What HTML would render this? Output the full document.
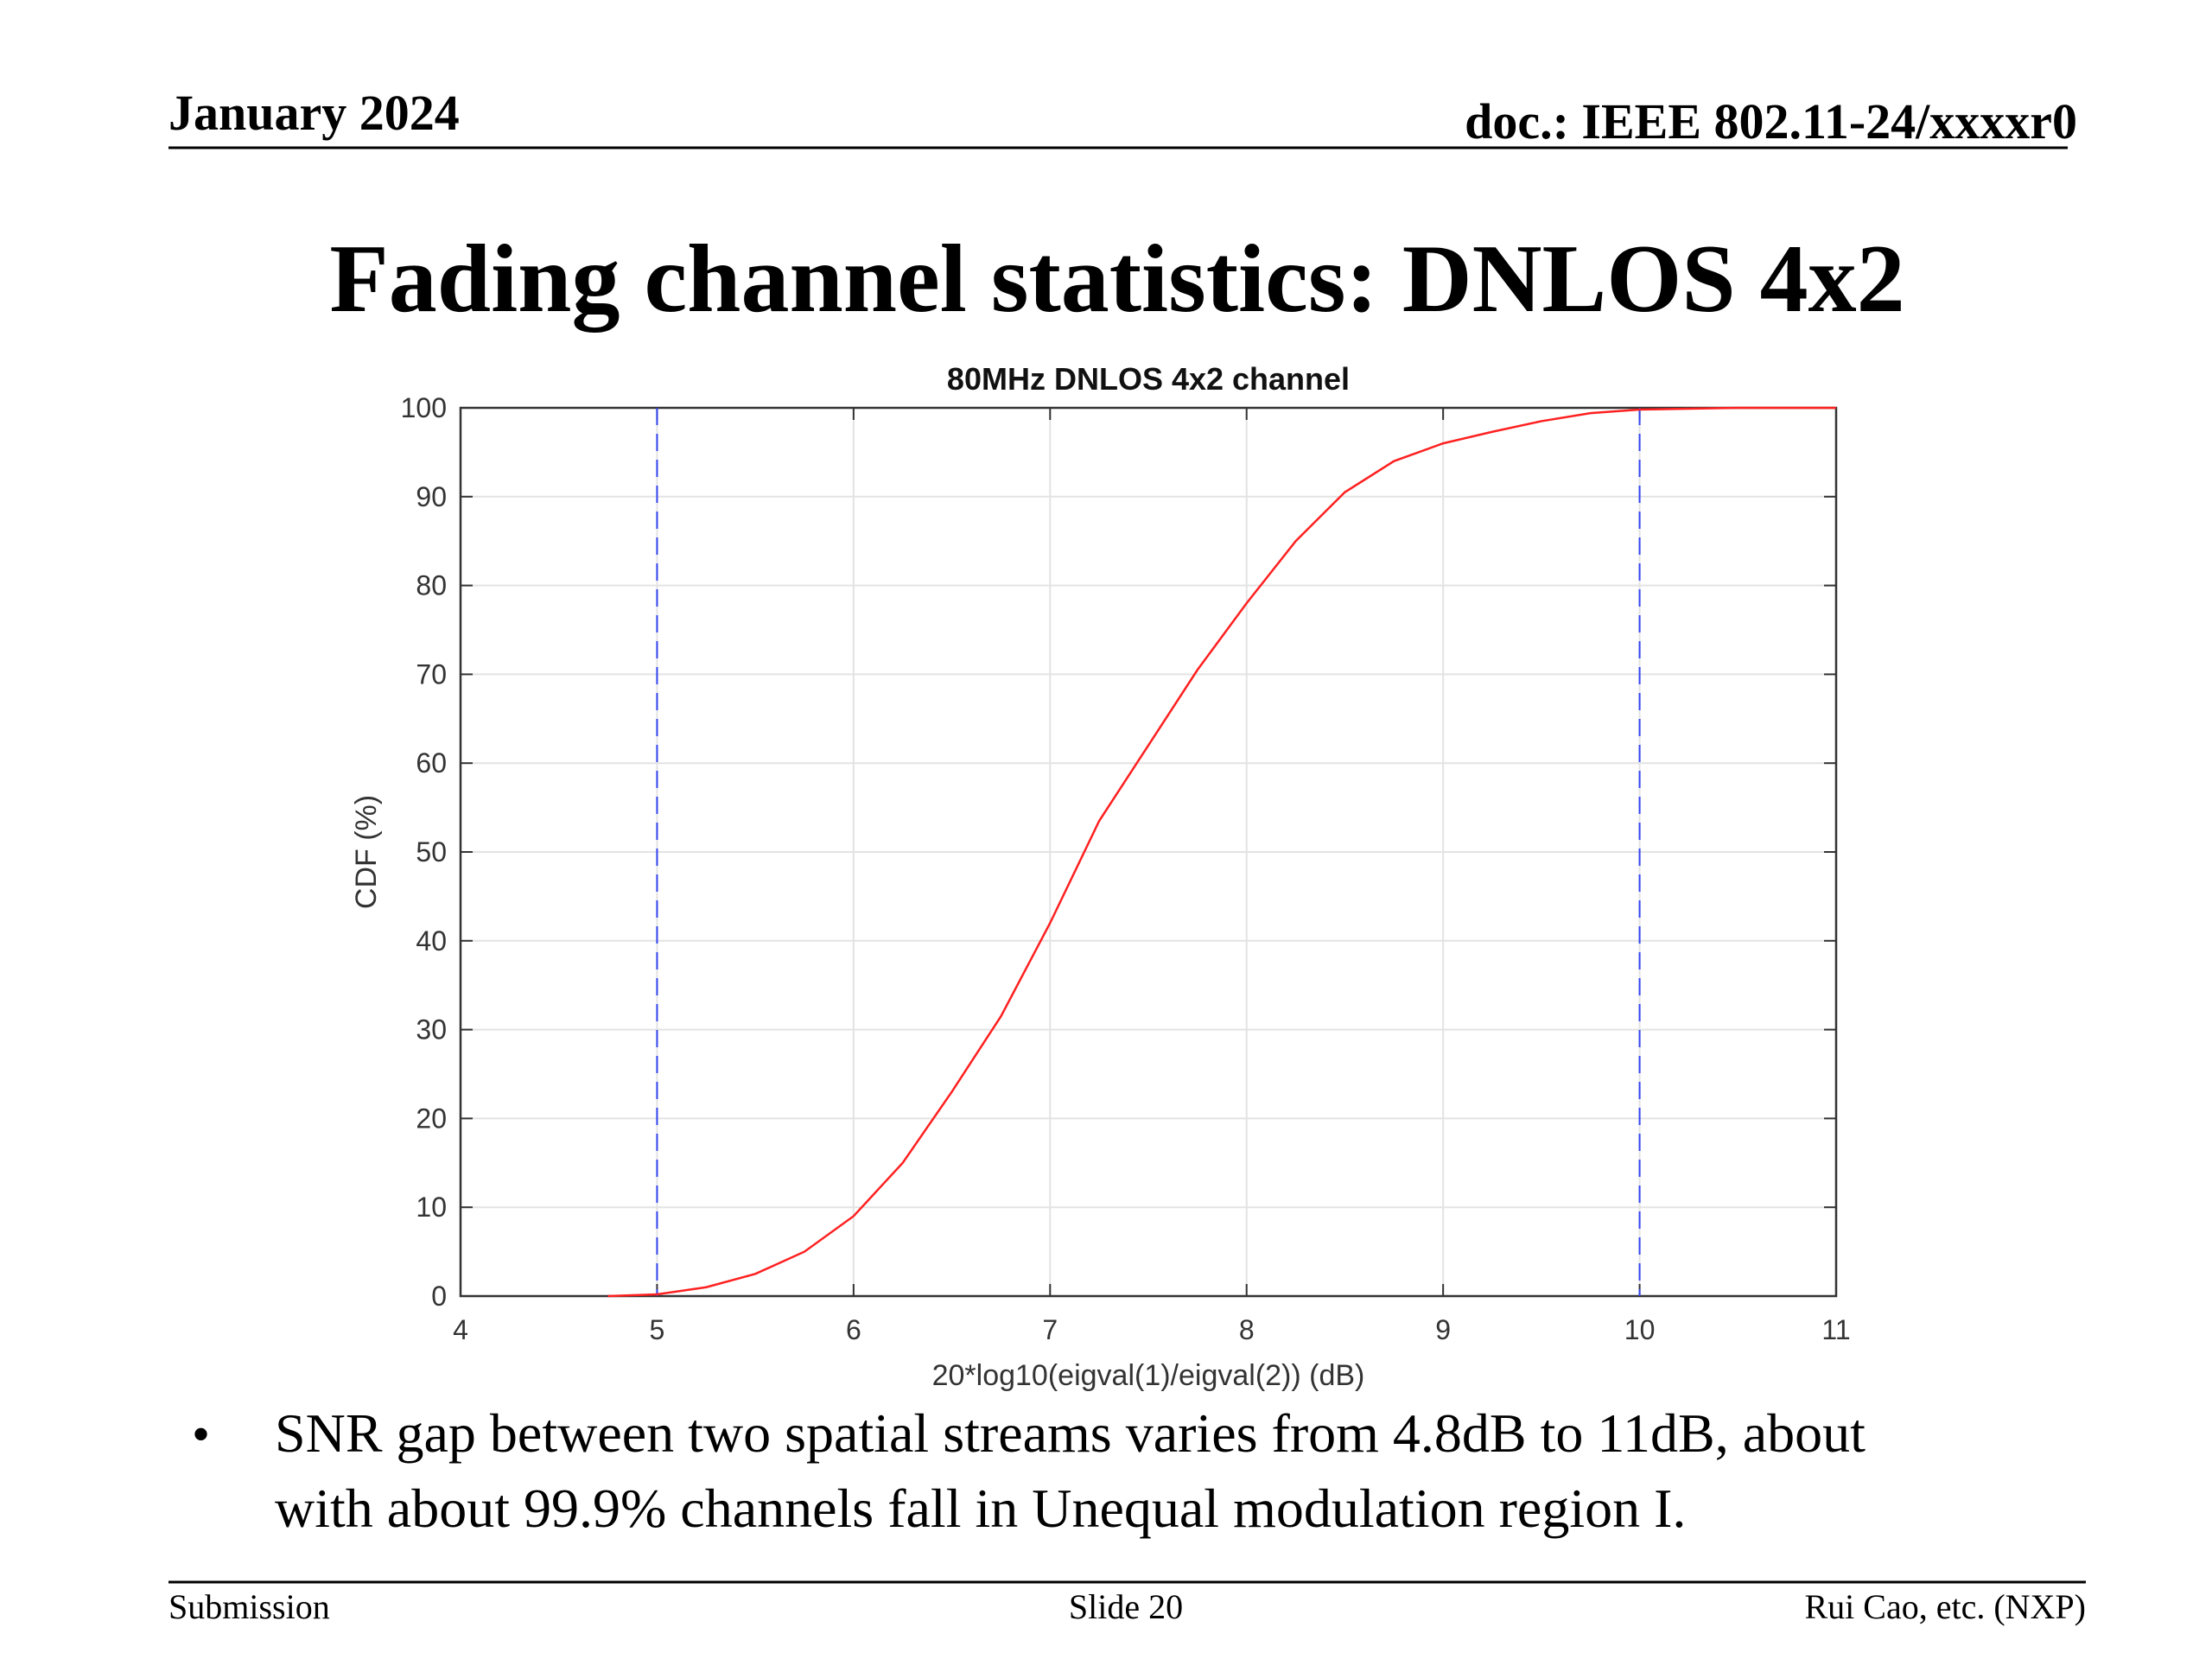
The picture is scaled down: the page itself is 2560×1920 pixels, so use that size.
<!DOCTYPE html>
<html><head><meta charset="utf-8"><style>
html,body{margin:0;padding:0;background:#fff}
svg{display:block}
</style></head><body>
<svg id="page" width="2560" height="1920" viewBox="0 0 2560 1920" xmlns="http://www.w3.org/2000/svg">
<text x="195" y="150" font-family="Liberation Serif, serif" font-weight="bold" font-size="58">January 2024</text>
<text x="2404" y="160" text-anchor="end" font-family="Liberation Serif, serif" font-weight="bold" font-size="58">doc.: IEEE 802.11-24/xxxxr0</text>
<line x1="195" y1="171" x2="2393" y2="171" stroke="#000" stroke-width="3"/>
<text x="1293" y="360" text-anchor="middle" font-family="Liberation Serif, serif" font-weight="bold" font-size="112">Fading channel statistics: DNLOS 4x2</text>
<g id="chart"></g>
<text x="222" y="1680" font-family="Liberation Serif, serif" font-size="60">•</text>
<text font-family="Liberation Serif, serif" font-size="64"><tspan x="318" y="1680">SNR gap between two spatial streams varies from 4.8dB to 11dB, about</tspan><tspan x="318" y="1767">with about 99.9% channels fall in Unequal modulation region I.</tspan></text>
<line x1="195" y1="1831" x2="2414" y2="1831" stroke="#000" stroke-width="3"/>
<text x="195" y="1873" font-family="Liberation Serif, serif" font-size="40">Submission</text>
<text x="1303" y="1873" text-anchor="middle" font-family="Liberation Serif, serif" font-size="40">Slide 20</text>
<text x="2414" y="1873" text-anchor="end" font-family="Liberation Serif, serif" font-size="40">Rui Cao, etc. (NXP)</text>
</svg>
<script>
const xVals=[4.75,5,5.25,5.5,5.75,6,6.25,6.5,6.75,7,7.25,7.5,7.75,8,8.25,8.5,8.75,9,9.25,9.5,9.75,10,10.25,10.5,11];
const cdfVals=[0,0.2,1,2.5,5,9,15,23,31.5,42,53.5,62,70.5,78,85,90.5,94,96,97.3,98.5,99.4,99.8,99.9,100,100];
const xTicks=[4,5,6,7,8,9,10,11];
const yTicks=[0,10,20,30,40,50,60,70,80,90,100];
const markerX=[5,10];
const NS="http://www.w3.org/2000/svg";
const L=533,R=2125,T=472,B=1500;
const xs=v=>L+(v-4)/7*(R-L);
const ys=v=>B-v/100*(B-T);
const g=document.getElementById('chart');
function mk(tag,attrs){const e=document.createElementNS(NS,tag);for(const k in attrs)e.setAttribute(k,attrs[k]);g.appendChild(e);return e;}
const F="Liberation Sans, sans-serif";
let bg=mk('rect',{x:L,y:T,width:R-L,height:B-T,fill:'#fff'});


xTicks.forEach(t=>{
 const gl=mk('line',{x1:xs(t),x2:xs(t),y1:T,y2:B,stroke:'#e3e3e3','stroke-width':2});
 
 
 const tk=mk('line',{x1:xs(t),x2:xs(t),y1:B,y2:B-14,stroke:'#333','stroke-width':2});
 
 
 const tk2=mk('line',{x1:xs(t),x2:xs(t),y1:T,y2:T+14,stroke:'#333','stroke-width':2});
 
 
 const lb=mk('text',{x:xs(t),y:B+50,'text-anchor':'middle','font-family':F,'font-size':32,fill:'#333'});
 lb.textContent=t;
 
 
});
yTicks.forEach(t=>{
 const gl=mk('line',{x1:L,x2:R,y1:ys(t),y2:ys(t),stroke:'#e3e3e3','stroke-width':2});
 
 
 const tk=mk('line',{x1:L,x2:L+14,y1:ys(t),y2:ys(t),stroke:'#333','stroke-width':2});
 
 
 const tk2=mk('line',{x1:R,x2:R-14,y1:ys(t),y2:ys(t),stroke:'#333','stroke-width':2});
 
 
 const lb=mk('text',{x:L-16,y:ys(t)+11,'text-anchor':'end','font-family':F,'font-size':32,fill:'#333'});
 lb.textContent=t;
 
 
});
let fr=mk('rect',{x:L,y:T,width:R-L,height:B-T,fill:'none',stroke:'#333','stroke-width':2.5});


markerX.forEach(m=>{
 const l=mk('line',{x1:xs(m),x2:xs(m),y1:T,y2:B,stroke:'#3344ee','stroke-width':2,'stroke-dasharray':'20 10'});
 
 
});
const p=mk('polyline',{points:xVals.map((x,i)=>xs(x)+','+ys(cdfVals[i])).join(' '),fill:'none',stroke:'#ff2020','stroke-width':2.5});


const tt=mk('text',{x:(L+R)/2,y:451,'text-anchor':'middle','font-family':F,'font-weight':'bold','font-size':36,fill:'#111'});
tt.textContent='80MHz DNLOS 4x2 channel';


const xl=mk('text',{x:(L+R)/2,y:1603,'text-anchor':'middle','font-family':F,'font-size':34,fill:'#333'});
xl.textContent='20*log10(eigval(1)/eigval(2)) (dB)';


const yl=mk('text',{x:0,y:0,'text-anchor':'middle','font-family':F,'font-size':34,fill:'#333',transform:'translate(435,986) rotate(-90)'});
yl.textContent='CDF (%)';


</script>
</body></html>
